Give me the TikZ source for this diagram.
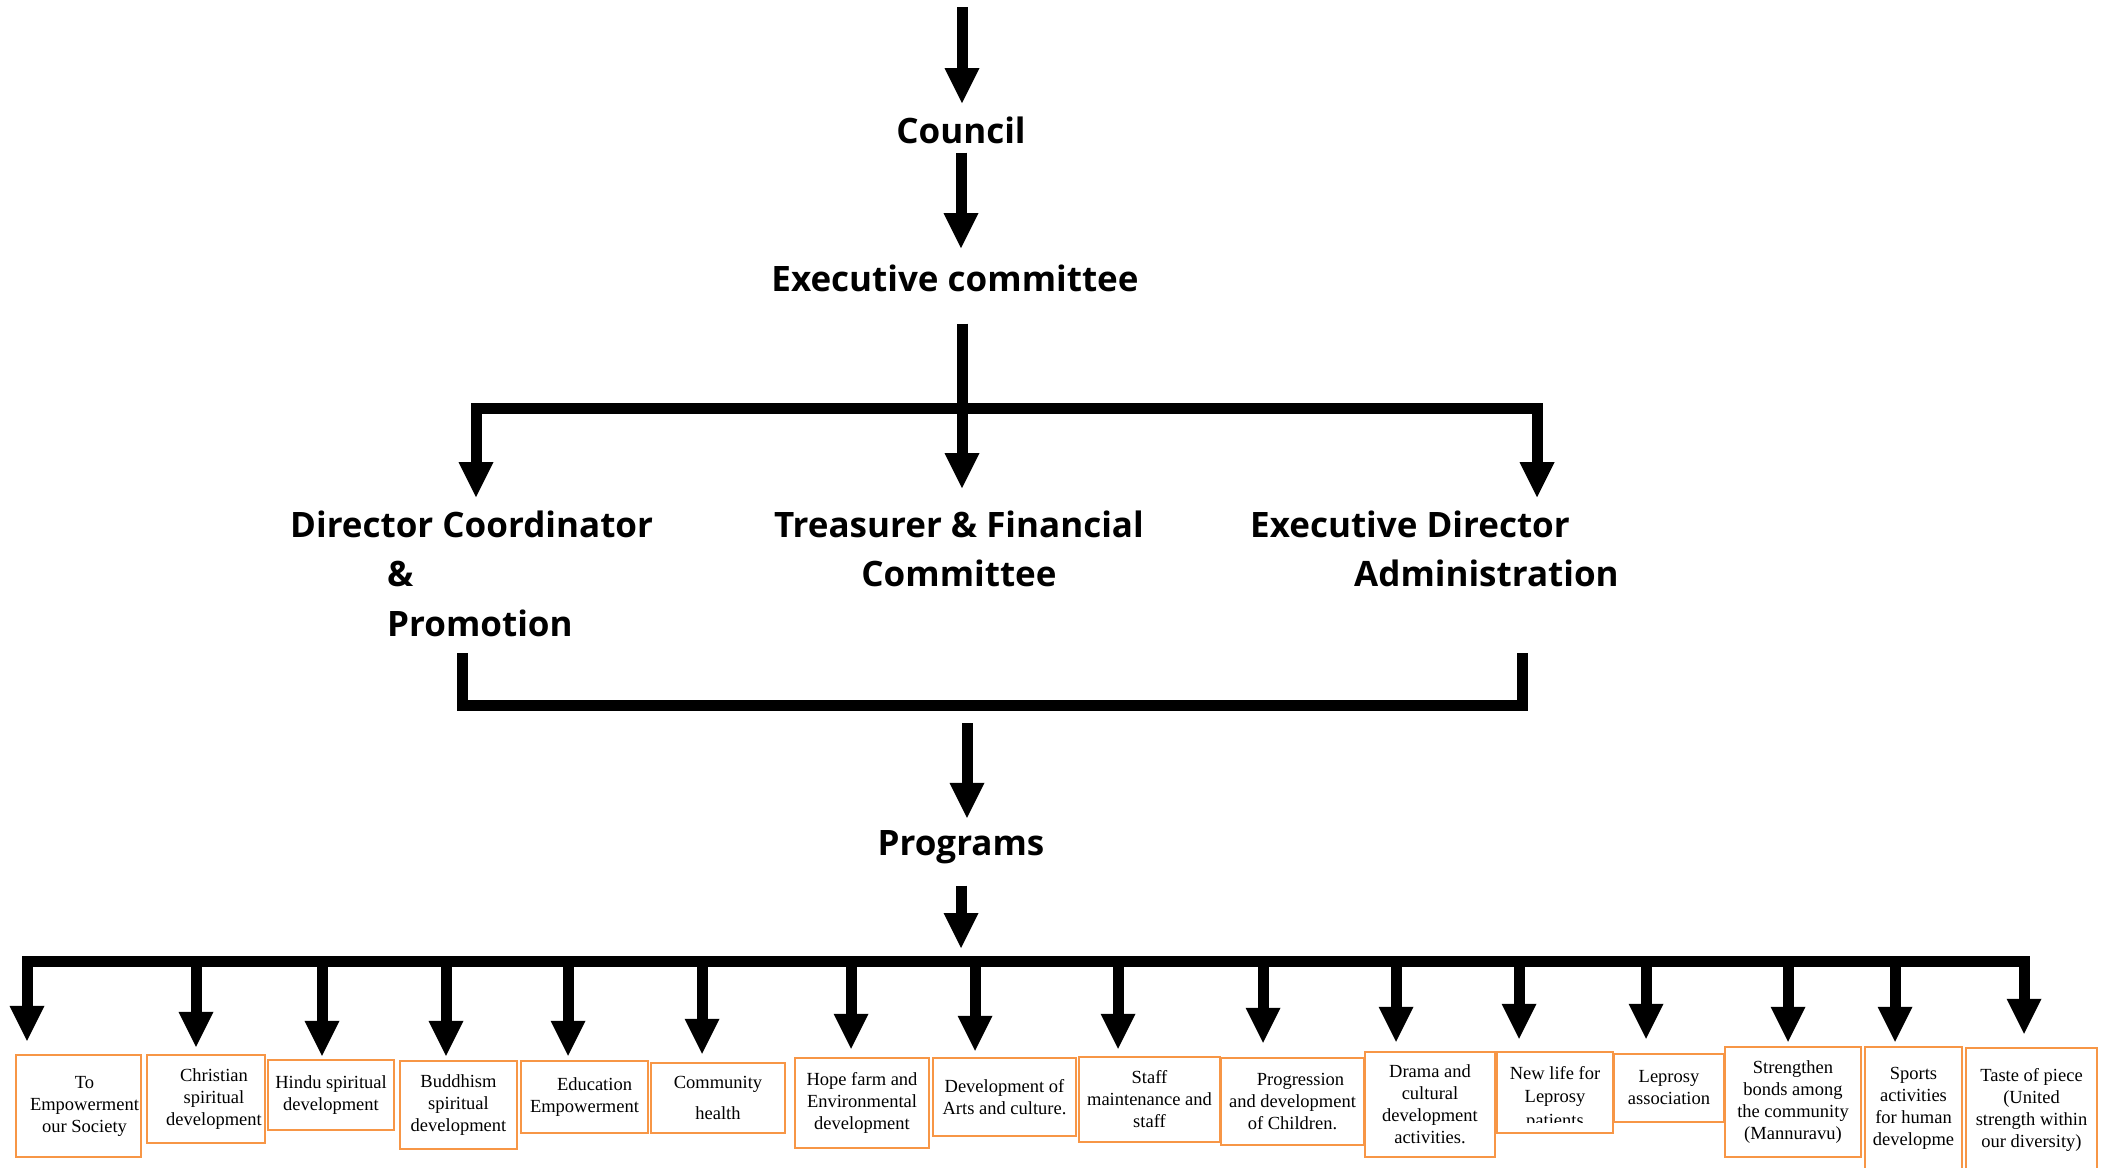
\documentclass[tikz,border=0pt]{standalone}
\usepackage{fontspec}
\setmainfont{Liberation Serif}
\newfontfamily\hdrfont{Open Sans}
\usetikzlibrary{arrows.meta}
\definecolor{boxorange}{HTML}{F79646}
\begin{document}
\begin{tikzpicture}[x=1pt,y=-1pt,
  hdr/.style={font=\hdrfont\bfseries\fontsize{35}{49.5}\selectfont, inner sep=0pt},
  arr/.style={line width=11pt, -{Triangle[length=35pt,width=35pt,line width=0pt]}},
  bar/.style={line width=11pt},
  pbox/.style={draw=boxorange, line width=2.5pt, inner sep=0pt, align=center,
    font=\fontsize{18.5}{22}\selectfont},
]
\useasboundingbox (0,0) rectangle (2109,1167);
\clip (0,0) rectangle (2109,1167);

% ---------- header texts ----------
\node[hdr, anchor=base] (council) at (961,143) {Council};
\node[hdr, anchor=base] (exec) at (955,291) {Executive committee};
\node[hdr, align=left, anchor=base west] (dir) at (290,636)
  {Director Coordinator\\\hspace*{97pt}\&\\\hspace*{97pt}Promotion};
\node[hdr, align=center, anchor=base] (treas) at (959,586.5)
  {Treasurer \& Financial\\Committee};
\node[hdr, align=left, anchor=base west] (edir) at (1250,586.5)
  {Executive Director\\\hspace*{104pt}Administration};
\node[hdr, anchor=base] (prog) at (961,855) {Programs};

% ---------- top arrows ----------
\coordinate (top) at (962,7);
\draw[arr, shorten >=13pt] (top) -- (top |- council.north);
\draw[arr, shorten <=9pt, shorten >=16pt] (council.south) -- (council.south |- exec.north);

% ---------- first bus ----------
\coordinate (mL) at (476,408);
\coordinate (mM) at (962,408);
\coordinate (mR) at (1537,408);
\draw[bar, line cap=rect] (mL) -- (mR);
\draw[arr, shorten <=32pt, shorten >=22pt] (exec.south -| mM) -- (mM |- treas.north);
\draw[arr, shorten >=13pt] (mL) -- (mL |- dir.north);
\draw[arr, shorten >=13pt] (mR) -- (mR |- edir.north);

% ---------- bracket ----------
\coordinate (k1) at (462,653);
\coordinate (k2) at (462,705);
\coordinate (k3) at (1522,705);
\coordinate (k4) at (1522,653);
\coordinate (kM) at (967,705);
\draw[bar, line join=miter] (k1) -- (k2) -- (k3) -- (k4);
\draw[arr, shorten <=18pt, shorten >=12pt] (kM) -- (kM |- prog.north);

% ---------- program boxes ----------
\node[pbox, minimum width=125pt, minimum height=102pt] (b1) at (78.5,1106)
  {\hspace*{12pt}To\\\hspace*{12pt}Empowerment\\\hspace*{12pt}our Society};
\node[pbox, minimum width=118pt, minimum height=88pt] (b2) at (206,1099)
  {\hspace*{16pt}Christian\\\hspace*{16pt}spiritual\\\hspace*{16pt}development};
\node[pbox, minimum width=126pt, minimum height=70pt] (b3) at (331,1095)
  {Hindu spiritual\\development};
\node[pbox, minimum width=117pt, minimum height=88pt] (b4) at (458.5,1105)
  {Buddhism\\spiritual\\development};
\node[pbox, minimum width=127pt, minimum height=72pt] (b5) at (584.5,1097)
  {\hspace*{20pt}Education\\Empowerment};
\node[pbox, minimum width=134pt, minimum height=70pt] (b6) at (718,1098)
  {Community\\[9pt]health};
\node[pbox, minimum width=134pt, minimum height=90pt] (b7) at (862,1103)
  {Hope farm and\\Environmental\\development};
\node[pbox, minimum width=143pt, minimum height=78pt] (b8) at (1004.5,1097)
  {Development of\\Arts and culture.};
\node[pbox, minimum width=141pt, minimum height=85pt] (b9) at (1149.5,1099.5)
  {Staff\\maintenance and\\staff};
\node[pbox, minimum width=143pt, minimum height=87pt] (b10) at (1292.5,1101.5)
  {\hspace*{16pt}Progression\\and development\\of Children.};
\node[pbox, minimum width=130pt, minimum height=105pt] (b11) at (1430,1104.5)
  {Drama and\\cultural\\development\\activities.};
\node[pbox, minimum width=116pt, minimum height=81pt] (b12) at (1555,1092.5) {};
\begin{scope}
  \clip ([yshift=12pt]b12.south west) rectangle (b12.north east);
  \node[pbox, draw=none, anchor=base, font=\fontsize{18.5}{23.5}\selectfont] (b12t)
    at (1555,1126) {New life for\\Leprosy\\patients};
\end{scope}
\node[pbox, minimum width=110pt, minimum height=68pt] (b13) at (1669,1088)
  {Leprosy\\association};
\node[pbox, minimum width=136pt, minimum height=110pt] (b14) at (1793,1102)
  {Strengthen\\bonds among\\the community\\(Mannuravu)};
\node[pbox, minimum width=97pt, minimum height=122pt] (b15) at (1913.5,1108)
  {Sports\\activities\\for human\\developme};
\node[pbox, minimum width=131pt, minimum height=124pt] (b16) at (2031.5,1110)
  {Taste of piece\\(United\\strength within\\our diversity)};

% ---------- second bus ----------
\foreach \i/\x in {1/27,2/196,3/322,4/446,5/568,6/702,7/851,8/975,9/1118,10/1263,
                   11/1396,12/1519,13/1646,14/1788,15/1895,16/2024}{
  \coordinate (d\i) at (\x,961);
}
\coordinate (pm) at (961,961);
\draw[arr, shorten <=22pt, shorten >=13pt] (prog.south -| pm) -- (pm);
\draw[bar, line cap=rect] (d1) -- (d16);
\foreach \i/\g in {1/13,2/7,3/3,4/4,5/4,6/8,7/8,8/6,9/7,10/14,11/9,12/12,13/14,14/4,15/4,16/13}{
  \draw[arr, shorten >=\g pt] (d\i) -- (d\i |- b\i.north);
}
\end{tikzpicture}
\end{document}
